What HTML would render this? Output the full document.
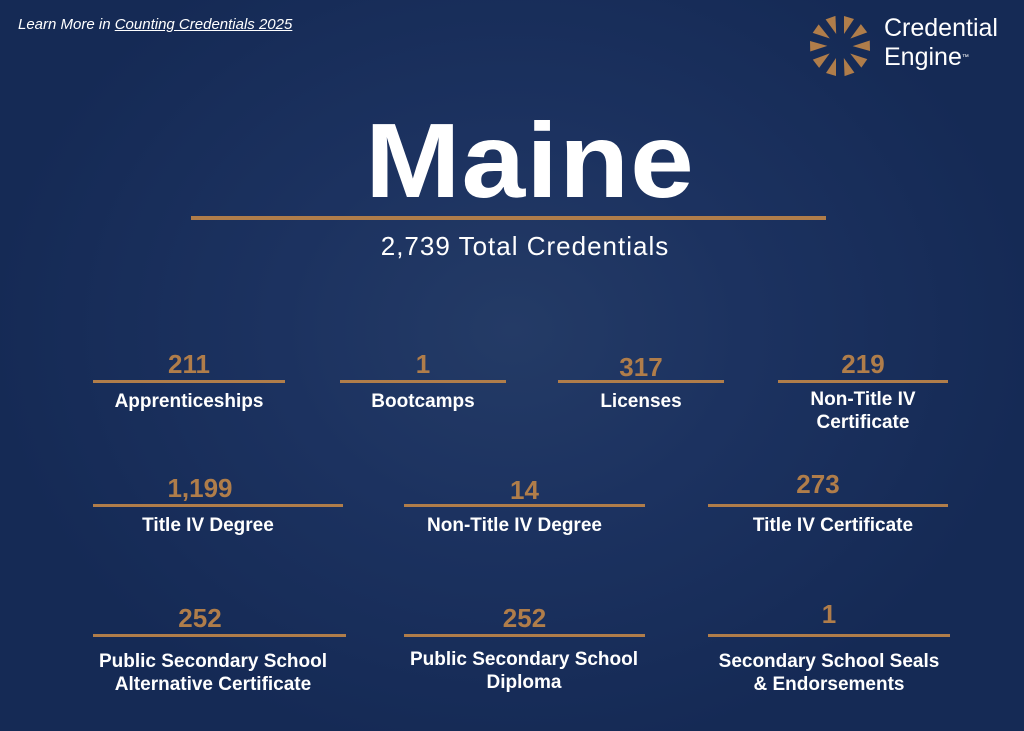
<!DOCTYPE html>
<html><head><style>
body{margin:0;width:1024px;height:731px;overflow:hidden;font-family:"Liberation Sans",sans-serif;
background:radial-gradient(ellipse 520px 430px at 512px 330px,#243b66 0%,#1c3260 45%,#152a55 100%);color:#fff;position:relative}
.a{position:absolute}
.n{position:absolute;color:#b07d4a;font-weight:bold;font-size:26px;text-align:center;line-height:26px}
.l{position:absolute;height:3px;background:#b07d4a}
.t{position:absolute;font-weight:bold;font-size:19px;text-align:center;line-height:23px}
</style></head><body>
<div class="a" style="left:18px;top:16px;font-size:15px;font-style:italic">Learn More in <span style="text-decoration:underline">Counting Credentials 2025</span></div>
<svg class="a" style="left:806px;top:12px" width="68" height="68" viewBox="-34 -34 68 68">
<g fill="#b07d4a">
<polygon points="4,-30 14,-27 4,-12"/>
<polygon points="4,-30 14,-27 4,-12" transform="rotate(36)"/>
<polygon points="4,-30 14,-27 4,-12" transform="rotate(72)"/>
<polygon points="4,-30 14,-27 4,-12" transform="rotate(108)"/>
<polygon points="4,-30 14,-27 4,-12" transform="rotate(144)"/>
<polygon points="4,-30 14,-27 4,-12" transform="rotate(180)"/>
<polygon points="4,-30 14,-27 4,-12" transform="rotate(216)"/>
<polygon points="4,-30 14,-27 4,-12" transform="rotate(252)"/>
<polygon points="4,-30 14,-27 4,-12" transform="rotate(288)"/>
<polygon points="4,-30 14,-27 4,-12" transform="rotate(324)"/>
</g></svg>
<div class="a" style="left:884px;top:14px;font-size:25px;line-height:29px">Credential<br>Engine<span style="font-size:7px;vertical-align:top">™</span></div>
<div class="a" style="left:18px;width:1024px;top:106px;text-align:center;font-weight:bold;font-size:106px;line-height:110px;letter-spacing:1px;transform:scaleX(1.08)">Maine</div>
<div class="l" style="left:191px;width:635px;top:216px;height:4px"></div>
<div class="a" style="left:13px;width:1024px;top:231px;text-align:center;font-size:26px;line-height:30px;letter-spacing:1px">2,739 Total Credentials</div>

<div class="n" style="left:93px;width:192px;top:351px">211</div><div class="l" style="left:93px;width:192px;top:380px"></div><div class="t" style="left:73px;width:232px;top:390px">Apprenticeships</div>
<div class="n" style="left:340px;width:166px;top:351px">1</div><div class="l" style="left:340px;width:166px;top:380px"></div><div class="t" style="left:323px;width:200px;top:390px">Bootcamps</div>
<div class="n" style="left:558px;width:166px;top:354px">317</div><div class="l" style="left:558px;width:166px;top:380px"></div><div class="t" style="left:548px;width:186px;top:390px">Licenses</div>
<div class="n" style="left:778px;width:170px;top:351px">219</div><div class="l" style="left:778px;width:170px;top:380px"></div><div class="t" style="left:768px;width:190px;top:388px">Non-Title IV<br>Certificate</div>

<div class="n" style="left:93px;width:214px;top:475px">1,199</div><div class="l" style="left:93px;width:250px;top:504px"></div><div class="t" style="left:83px;width:250px;top:514px">Title IV Degree</div>
<div class="n" style="left:404px;width:241px;top:477px">14</div><div class="l" style="left:404px;width:241px;top:504px"></div><div class="t" style="left:394px;width:241px;top:514px">Non-Title IV Degree</div>
<div class="n" style="left:708px;width:220px;top:471px">273</div><div class="l" style="left:708px;width:240px;top:504px"></div><div class="t" style="left:708px;width:250px;top:514px">Title IV Certificate</div>

<div class="n" style="left:93px;width:214px;top:605px">252</div><div class="l" style="left:93px;width:253px;top:634px"></div><div class="t" style="left:73px;width:280px;top:650px">Public Secondary School<br>Alternative Certificate</div>
<div class="n" style="left:404px;width:241px;top:605px">252</div><div class="l" style="left:404px;width:241px;top:634px"></div><div class="t" style="left:384px;width:280px;top:648px">Public Secondary School<br>Diploma</div>
<div class="n" style="left:708px;width:242px;top:601px">1</div><div class="l" style="left:708px;width:242px;top:634px"></div><div class="t" style="left:689px;width:280px;top:650px">Secondary School Seals<br>&amp; Endorsements</div>
</body></html>
